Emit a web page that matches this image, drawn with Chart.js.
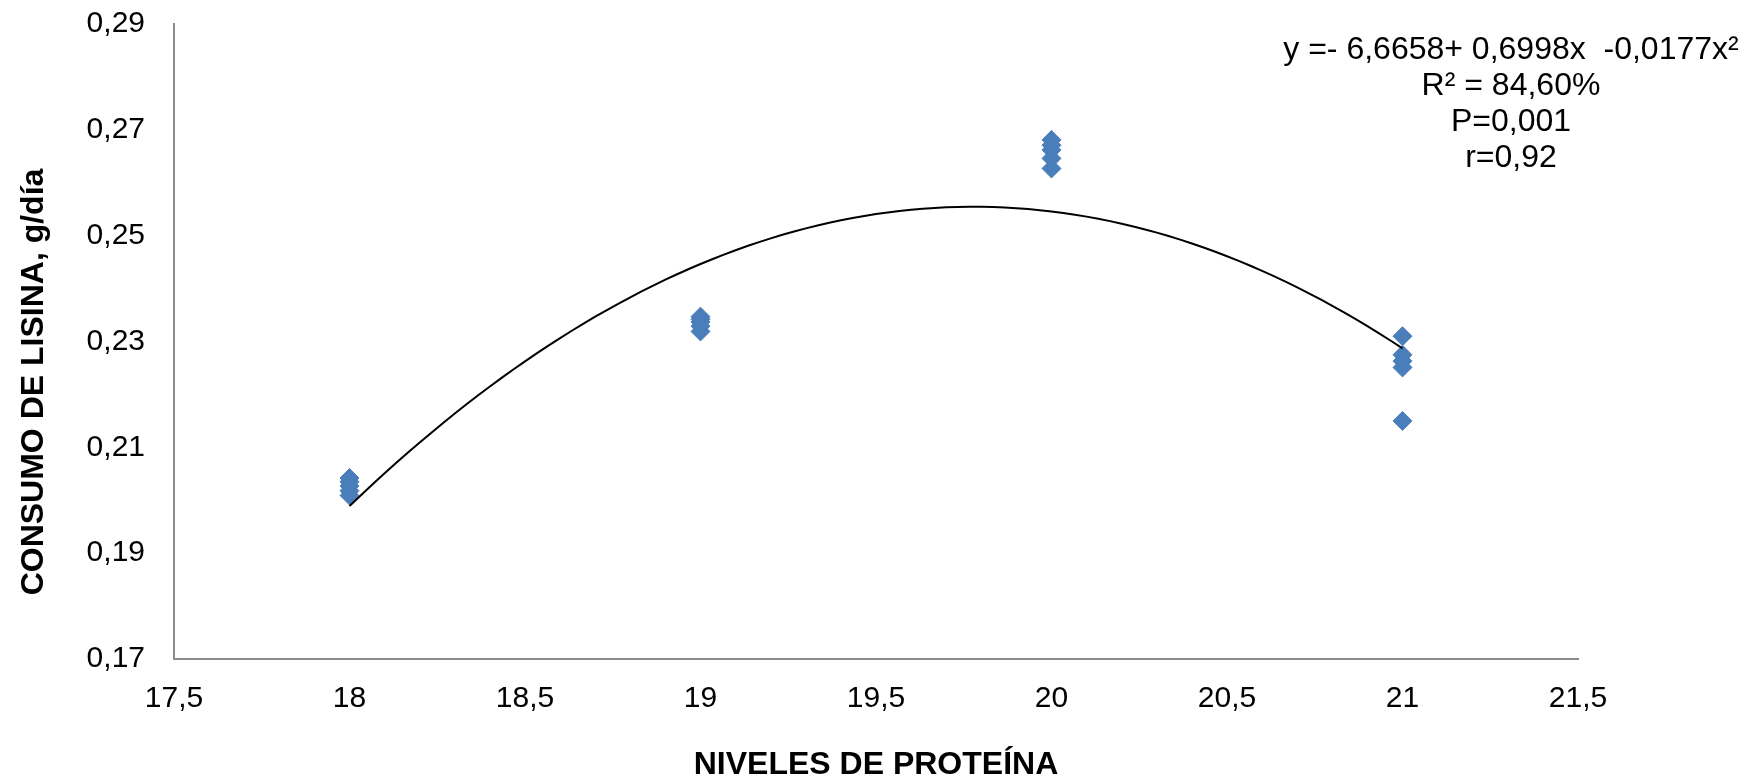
<!DOCTYPE html>
<html>
<head>
<meta charset="utf-8">
<script src="https://cdn.jsdelivr.net/npm/chart.js@4"></script>
<style>
  html, body { margin: 0; padding: 0; background: #fff; }
  #wrap { width: 1747px; height: 784px; }
</style>
</head>
<body>
<div id="wrap"><canvas id="lisinaChart"></canvas></div>
<script>
// niveles de proteína (x) y consumo de lisina por réplica (y)
const proteinLevels = [18, 19, 20, 21];
const consumo18 = [0.2042, 0.2035, 0.2027, 0.2018, 0.2009];
const consumo19 = [0.2347, 0.2342, 0.2337, 0.2329, 0.2319];
const consumo20 = [0.2681, 0.2671, 0.2662, 0.2646, 0.2627];
const consumo21 = [0.2310, 0.2275, 0.2263, 0.2251, 0.2150];
const consumoByLevel = [consumo18, consumo19, consumo20, consumo21];

const xTicks = [17.5, 18, 18.5, 19, 19.5, 20, 20.5, 21, 21.5];
const yTicks = [0.17, 0.19, 0.21, 0.23, 0.25, 0.27, 0.29];

const equationLines = [
  'y =- 6,6658+ 0,6998x  -0,0177x\u00B2',
  'R\u00B2 = 84,60%',
  'P=0,001',
  'r=0,92'
];

const FONT = "'Liberation Sans', Arial, sans-serif";
const comma = v => String(v).replace('.', ',');

// scatter points
const points = [];
proteinLevels.forEach((lvl, i) => {
  consumoByLevel[i].forEach(v => points.push({ x: lvl, y: v }));
});

// polynomial trendline (order 2, least squares) like the spreadsheet one
function quadFit(pts) {
  let s = [0, 0, 0, 0, 0], t = [0, 0, 0];
  pts.forEach(p => {
    for (let k = 0; k < 5; k++) s[k] += Math.pow(p.x, k);
    for (let k = 0; k < 3; k++) t[k] += Math.pow(p.x, k) * p.y;
  });
  const m = [
    [s[0], s[1], s[2], t[0]],
    [s[1], s[2], s[3], t[1]],
    [s[2], s[3], s[4], t[2]]
  ];
  for (let c = 0; c < 3; c++) {
    for (let r = c + 1; r < 3; r++) {
      const f = m[r][c] / m[c][c];
      for (let k = c; k < 4; k++) m[r][k] -= f * m[c][k];
    }
  }
  const b = [0, 0, 0];
  for (let r = 2; r >= 0; r--) {
    let acc = m[r][3];
    for (let k = r + 1; k < 3; k++) acc -= m[r][k] * b[k];
    b[r] = acc / m[r][r];
  }
  return b;
}
const coef = quadFit(points);
const xMin = proteinLevels[0], xMax = proteinLevels[proteinLevels.length - 1];
const trend = [];
for (let i = 0; i <= 90; i++) {
  const x = xMin + (xMax - xMin) * i / 90;
  trend.push({ x: x, y: coef[0] + coef[1] * x + coef[2] * x * x });
}

const textPlugin = {
  id: 'textPlugin',
  afterDraw(chart) {
    const ctx = chart.ctx;
    ctx.save();
    ctx.fillStyle = '#000';
    ctx.textAlign = 'center';
    ctx.textBaseline = 'middle';
    ctx.font = '32px ' + FONT;
    equationLines.forEach((line, i) => {
      ctx.fillText(line, 1511, 50 + i * 36);
    });
    ctx.restore();

    // y axis title
    ctx.save();
    ctx.translate(34, 382);
    ctx.rotate(-Math.PI / 2);
    ctx.fillStyle = '#000';
    ctx.textAlign = 'center';
    ctx.textBaseline = 'middle';
    ctx.font = 'bold 32px ' + FONT;
    ctx.fillText('CONSUMO DE LISINA, g/d\u00EDa', 0, 0);
    ctx.restore();
  }
};

new Chart(document.getElementById('lisinaChart'), {
  type: 'scatter',
  data: {
    datasets: [
      {
        label: 'Consumo',
        data: points,
        pointStyle: 'rectRot',
        pointRadius: 9.5,
        pointHoverRadius: 9.5,
        backgroundColor: '#4a7ebb',
        borderColor: '#4a7ebb',
        borderWidth: 1,
        order: 2
      },
      {
        label: 'Tendencia',
        data: trend,
        showLine: true,
        pointRadius: 0,
        borderColor: '#000',
        borderWidth: 2,
        tension: 0,
        order: 1
      }
    ]
  },
  plugins: [textPlugin],
  options: {
    responsive: true,
    maintainAspectRatio: false,
    animation: false,
    layout: { padding: { left: 0, top: 0, right: 169, bottom: 0 } },
    plugins: {
      legend: { display: false },
      tooltip: { enabled: false }
    },
    scales: {
      x: {
        type: 'linear',
        min: xTicks[0],
        max: xTicks[xTicks.length - 1],
        afterFit: s => { s.height = 125; },
        afterBuildTicks: s => { s.ticks = xTicks.map(v => ({ value: v })); },
        grid: { display: false, drawTicks: false },
        border: { display: true, color: '#8c8c8c', width: 2 },
        ticks: {
          padding: 22,
          color: '#000',
          font: { family: FONT, size: 30 },
          callback: v => comma(v)
        },
        title: {
          display: true,
          text: 'NIVELES DE PROTE\u00CDNA',
          color: '#000',
          font: { family: FONT, size: 32, weight: 'bold' },
          padding: { top: 0, bottom: 0 }
        }
      },
      y: {
        type: 'linear',
        min: yTicks[0],
        max: yTicks[yTicks.length - 1],
        afterFit: s => { s.width = 174; s.paddingTop = 24; s.paddingBottom = 0; },
        afterBuildTicks: s => { s.ticks = yTicks.map(v => ({ value: v })); },
        grid: { display: false, drawTicks: false },
        border: { display: true, color: '#8c8c8c', width: 2 },
        ticks: {
          padding: 29,
          color: '#000',
          font: { family: FONT, size: 30 },
          callback: v => v.toFixed(2).replace('.', ',')
        }
      }
    }
  }
});
</script>
</body>
</html>
